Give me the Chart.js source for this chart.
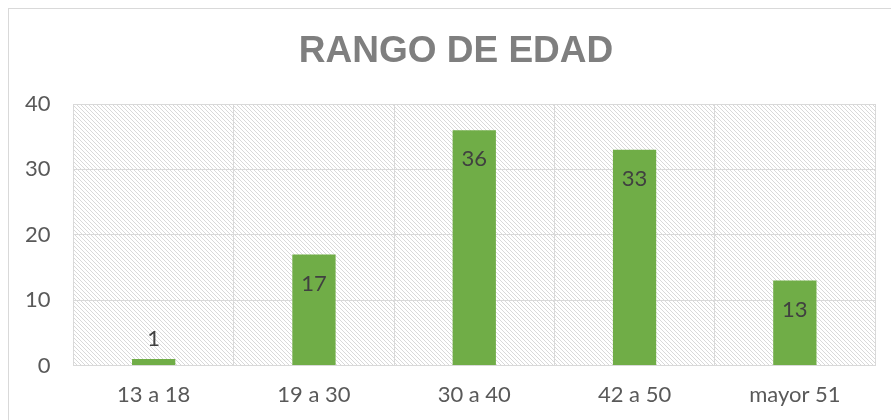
<!DOCTYPE html>
<html>
<head>
<meta charset="utf-8">
<script src="https://cdn.jsdelivr.net/npm/chart.js@4.4.0/dist/chart.umd.min.js"></script>
<style>
  body { margin: 0; background: #fff; }
  #wrap { width: 891px; height: 420px; }
</style>
</head>
<body>
<div id="wrap"><canvas id="myChart" width="891" height="420"></canvas></div>
<script>
// data
let age_labels = ['13 a 18', '19 a 30', '30 a 40', '42 a 50', 'mayor 51'];
let count_values = [1, 17, 36, 33, 13];
let y_ticks = [0, 10, 20, 30, 40];
let chart_title = 'RANGO DE EDAD';

const gridGray = '#d9d9d9';
const barGreen = '#70ad47';

// diagonal hatch for the plot area
function makeHatch() {
    const c = document.createElement('canvas');
    c.width = 4; c.height = 4;
    const g = c.getContext('2d');
    g.fillStyle = '#ffffff';
    g.fillRect(0, 0, 4, 4);
    g.fillStyle = '#d9d9d9';
    for (let i = 0; i < 4; i++) g.fillRect(i, i, 1, 1);
    return g.createPattern(c, 'repeat');
}

const backdrop = {
    id: 'backdrop',
    beforeDraw(chart) {
        const ctx = chart.ctx;
        const a = chart.chartArea;
        ctx.save();
        ctx.strokeStyle = gridGray;
        ctx.lineWidth = 1;
        ctx.strokeRect(8.5, 8.5, 900, 430);
        ctx.fillStyle = makeHatch();
        ctx.fillRect(a.left, a.top, a.right - a.left, a.bottom - a.top);
        // title centred on the outer frame, like the office chart
        ctx.font = 'bold 37px "Liberation Sans"';
        ctx.fillStyle = '#7f7f7f';
        ctx.textAlign = 'center';
        ctx.textBaseline = 'alphabetic';
        ctx.fillText(chart_title, 456, 62);
        ctx.restore();
    }
};

const valueLabels = {
    id: 'valueLabels',
    afterDatasetsDraw(chart) {
        const ctx = chart.ctx;
        const meta = chart.getDatasetMeta(0);
        ctx.save();
        ctx.font = '22px Lato';
        ctx.fillStyle = '#404040';
        ctx.textAlign = 'center';
        ctx.textBaseline = 'middle';
        meta.data.forEach((bar, i) => {
            const h = bar.base - bar.y;
            const y = h < 40 ? bar.y - 20 : bar.y + 29;
            ctx.fillText(String(count_values[i]), bar.x, y);
        });
        ctx.restore();
    }
};

const ctx = document.getElementById('myChart').getContext('2d');
const myChart = new Chart(ctx, {
    type: 'bar',
    data: {
        labels: age_labels,
        datasets: [{
            label: 'Rango de edad',
            data: count_values,
            backgroundColor: barGreen,
            borderWidth: 0,
            barPercentage: 0.27,
            categoryPercentage: 1
        }]
    },
    options: {
        responsive: false,
        animation: false,
        layout: { padding: { left: 2, right: 16, top: 104, bottom: -4 } },
        plugins: {
            legend: { display: false },
            tooltip: { enabled: false },
            title: { display: false }
        },
        scales: {
            x: {
                grid: { color: gridGray, drawTicks: false, offset: true },
                border: { color: gridGray },
                ticks: { color: '#595959', font: { family: 'Lato', size: 22 }, padding: 16 }
            },
            y: {
                min: 0,
                max: 40,
                afterBuildTicks(axis) { axis.ticks = y_ticks.map(v => ({ value: v })); },
                grid: { color: gridGray, drawTicks: false },
                border: { display: false },
                ticks: { color: '#595959', font: { family: 'Lato', size: 22 }, padding: 23 }
            }
        }
    },
    plugins: [backdrop, valueLabels]
});
</script>
</body>
</html>
